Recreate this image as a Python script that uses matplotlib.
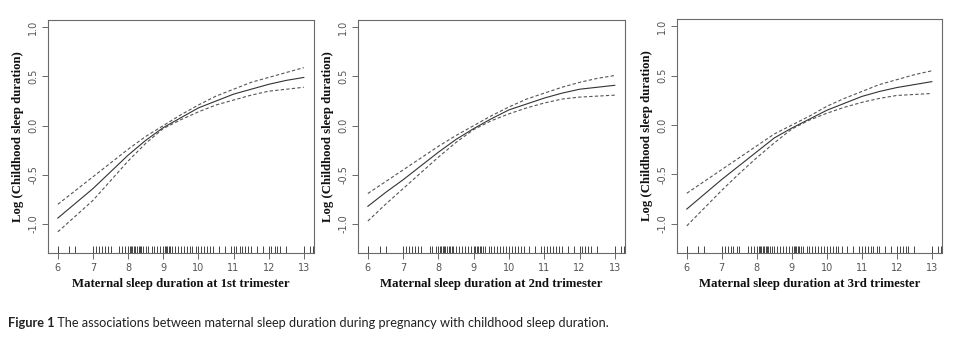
import matplotlib
matplotlib.use("Agg")
import matplotlib.pyplot as plt
import numpy as np

# ---- data ----
x_grid = [6, 6.5, 7, 7.5, 8, 8.5, 9, 9.5, 10, 10.5, 11, 11.5, 12, 12.5, 13]

fit_1st = [-0.94, -0.79, -0.64, -0.47, -0.30, -0.15, -0.02, 0.08, 0.18, 0.25, 0.32, 0.37, 0.42, 0.46, 0.49]
upper_1st = [-0.80, -0.66, -0.52, -0.38, -0.24, -0.11, 0.00, 0.11, 0.21, 0.30, 0.37, 0.44, 0.49, 0.54, 0.59]
lower_1st = [-1.08, -0.92, -0.76, -0.56, -0.36, -0.18, -0.03, 0.06, 0.14, 0.21, 0.26, 0.31, 0.35, 0.37, 0.39]

fit_2nd = [-0.82, -0.68, -0.55, -0.41, -0.27, -0.14, -0.03, 0.07, 0.16, 0.22, 0.28, 0.33, 0.37, 0.39, 0.41]
upper_2nd = [-0.69, -0.57, -0.45, -0.33, -0.21, -0.10, 0.00, 0.10, 0.19, 0.27, 0.33, 0.39, 0.44, 0.48, 0.51]
lower_2nd = [-0.97, -0.80, -0.64, -0.48, -0.32, -0.17, -0.04, 0.05, 0.12, 0.18, 0.23, 0.27, 0.29, 0.30, 0.31]

fit_3rd = [-0.85, -0.70, -0.55, -0.41, -0.27, -0.13, -0.03, 0.06, 0.15, 0.22, 0.29, 0.34, 0.38, 0.41, 0.44]
upper_3rd = [-0.69, -0.57, -0.45, -0.33, -0.21, -0.09, 0.00, 0.09, 0.19, 0.27, 0.34, 0.41, 0.46, 0.51, 0.55]
lower_3rd = [-1.02, -0.84, -0.66, -0.49, -0.33, -0.18, -0.04, 0.05, 0.12, 0.18, 0.23, 0.27, 0.30, 0.31, 0.32]

rug_values = [6.0, 6.33, 6.5, 7.0, 7.08, 7.17, 7.25, 7.33, 7.42, 7.5, 7.75, 7.83, 7.92,
              8.0, 8.05, 8.08, 8.12, 8.17, 8.2, 8.25, 8.3, 8.33, 8.38, 8.42, 8.5, 8.58,
              8.67, 8.75, 8.83, 8.92, 9.0, 9.05, 9.08, 9.12, 9.17, 9.2, 9.25, 9.33, 9.42,
              9.5, 9.58, 9.67, 9.75, 9.83, 9.92, 10.0, 10.08, 10.17, 10.25, 10.33, 10.42,
              10.58, 10.75, 10.92, 11.0, 11.08, 11.17, 11.25, 11.33, 11.42, 11.5, 11.67,
              11.83, 12.0, 12.08, 12.17, 12.25, 12.33, 12.5, 13.0, 13.17, 13.25]

x_labels = ["Maternal sleep duration at 1st trimester",
            "Maternal sleep duration at 2nd trimester",
            "Maternal sleep duration at 3rd trimester"]
y_label = "Log (Childhood sleep duration)"
x_ticks = [6, 7, 8, 9, 10, 11, 12, 13]
y_ticks = [-1.0, -0.5, 0.0, 0.5, 1.0]
caption_bold = "Figure 1"
caption_text = " The associations between maternal sleep duration during pregnancy with childhood sleep duration."

panels = [(fit_1st, upper_1st, lower_1st),
          (fit_2nd, upper_2nd, lower_2nd),
          (fit_3rd, upper_3rd, lower_3rd)]

# ---- layout ----
W, H = 967, 353
fig = plt.figure(figsize=(W / 100, H / 100), dpi=100)
boxes = [(48, 20, 314, 253), (358, 20, 625, 253), (677, 19, 942, 253)]

frame_col = "#6a6a6a"
tick_col = "#555555"

for (fit, up, lo), (l, t, r, b), xl in zip(panels, boxes, x_labels):
    ax = fig.add_axes([l / W, 1 - b / H, (r - l) / W, (b - t) / H])
    ax.plot(x_grid, fit, color="#333333", lw=0.8)
    ax.plot(x_grid, up, color="#555555", lw=0.8, ls=(0, (3, 2)))
    ax.plot(x_grid, lo, color="#555555", lw=0.8, ls=(0, (3, 2)))
    ax.set_xlim(5.72, 13.29)
    ax.set_ylim(-1.295, 1.074)
    # rug
    ax.vlines(rug_values, 0, 0.028, transform=ax.get_xaxis_transform(),
              color="#444444", lw=0.7)
    ax.set_xticks(x_ticks)
    ax.set_yticks(y_ticks)
    ax.set_xticklabels([str(v) for v in x_ticks])
    ax.set_yticklabels(["%.1f" % v for v in y_ticks], rotation=90, va="center")
    ax.tick_params(axis="both", direction="out", length=4, width=0.7,
                   color=frame_col, labelcolor=tick_col, labelsize=7, pad=3,
                   top=False, right=False)
    for s in ax.spines.values():
        s.set_color(frame_col)
        s.set_linewidth(0.8)
    ax.set_xlabel(xl, family="Liberation Serif", fontweight="bold", fontsize=9.2,
                  color="#111111", labelpad=4)
    ax.set_ylabel(y_label, family="Liberation Serif", fontweight="bold", fontsize=9.2,
                  color="#111111", labelpad=3)

t1 = fig.text(8 / W, 1 - 323 / H, caption_bold, family="Lato", fontweight="bold",
              fontsize=9.2, va="center", color="#222222")
fig.canvas.draw()
bb = t1.get_window_extent()
fig.text(bb.x1 / W, 1 - 323 / H, caption_text, family="Lato", fontsize=9.2,
         va="center", color="#222222")

fig.savefig("out.png", dpi=100)
